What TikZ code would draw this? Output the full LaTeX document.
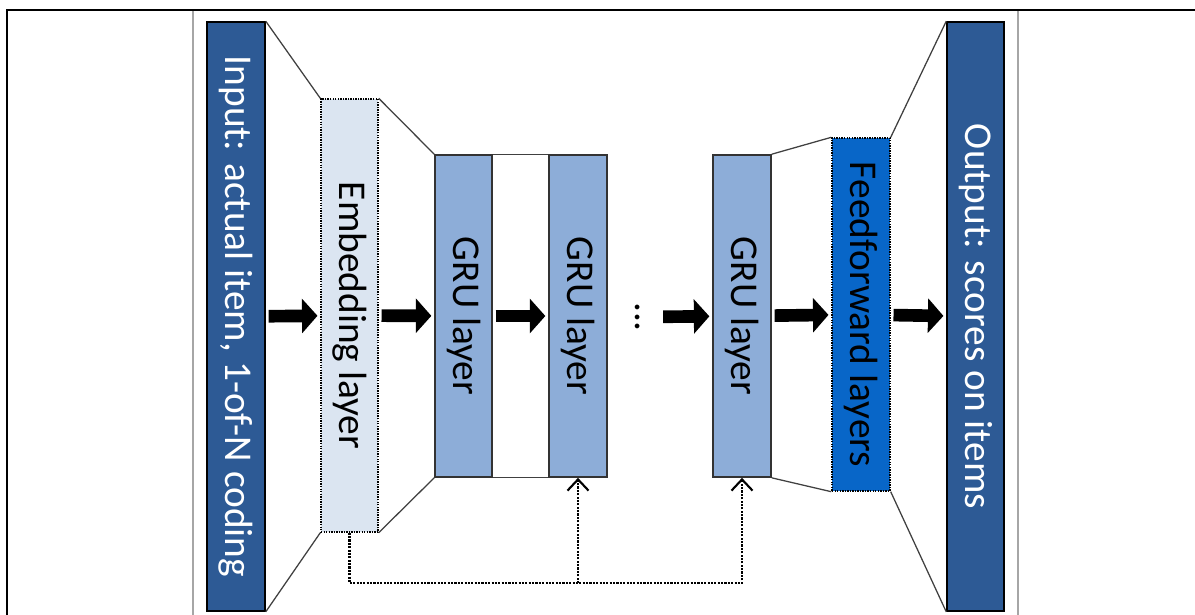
\documentclass[tikz,border=0pt]{standalone}
\usepackage{fontspec}
\setmainfont{Carlito}
\usepackage{graphicx}
\usetikzlibrary{arrows.meta}

\definecolor{ioblue}{HTML}{2D5A95}
\definecolor{grublue}{HTML}{8DADD8}
\definecolor{embblue}{HTML}{DBE5F1}
\definecolor{ffblue}{HTML}{0866C8}
\newcommand{\unitpx}{0.025cm}
\newcommand{\vtext}[1]{\rotatebox{-90}{#1}}

\begin{document}
\begin{tikzpicture}[x=0.025cm, y=-0.025cm,
    every node/.style={inner sep=0pt, font=\fontsize{28}{30}\selectfont},
    layer/.style 2 args={minimum width=#1*\unitpx, minimum height=#2*\unitpx},
    iobox/.style={draw=black, line width=1.1pt, fill=ioblue, text=white},
    grubox/.style={draw=black!80, line width=1.2pt, fill=grublue},
    dotbox/.style={draw=black, line width=1pt, dash pattern=on 1pt off 0.8pt},
    side/.style={draw=black!75, line width=0.9pt},
    flow/.style={line width=9pt, -{Triangle[width=24pt,length=11pt]}, shorten <=2pt, shorten >=2pt},
    fb/.style={line width=1.7pt, dash pattern=on 1.5pt off 0.9pt, -{Straight Barb[length=8pt,width=15pt,line width=1.5pt]}}]
    \useasboundingbox (0,0) rectangle (1195,614);
    \clip (0,0) rectangle (1195,614);
    \draw[line width=1.4pt] (7,10) rectangle (1210,630);
    \draw[gray!70, line width=1.3pt] (193,11) -- (193,620);
    \draw[gray!70, line width=1.3pt] (1018,11) -- (1018,620);

    \node[iobox, layer={58}{589}] (inp) at (236,316.5) {\vtext{Input: actual item, 1-of-N coding}};
    \node[dotbox, fill=embblue, layer={57}{433}] (emb) at (349.5,315.5) {\vtext{Embedding layer}};
    \node[grubox, layer={57}{322}] (gru1) at (463.5,316) {\vtext{GRU layer}};
    \node[grubox, layer={58}{322}] (gru2) at (578,316) {\vtext{GRU layer}};
    \node (dots) at (638,317) {\vtext{...}};
    \node[grubox, layer={58}{322}] (gru3) at (742,316) {\vtext{GRU layer}};
    \node[dotbox, fill=ffblue, layer={58}{353}] (ff) at (861,314.5) {\vtext{Feedforward layers}};
    \node[iobox, layer={57}{589}] (out) at (975.5,316.5) {\vtext{Output: scores on items}};

    \draw[side] (inp.north east) -- (emb.north west) (inp.south east) -- (emb.south west);
    \draw[side] (emb.north east) -- (gru1.north west) (emb.south east) -- (gru1.south west);
    \draw[side] (gru1.north east) -- (gru2.north west) (gru1.south east) -- (gru2.south west);
    \draw[side] (gru3.north east) -- (ff.north west) (gru3.south east) -- (ff.south west);
    \draw[side] (ff.north east) -- (out.north west) (ff.south east) -- (out.south west);

    \draw[flow] (inp) -- (emb);
    \draw[flow] (emb) -- (gru1);
    \draw[flow] (gru1) -- (gru2);
    \draw[flow, shorten <=16pt] (dots) -- (gru3);
    \draw[flow] (gru3) -- (ff);
    \draw[flow] (ff) -- (out);

    \coordinate (loop) at (350,583);
    \draw[fb] (emb.south) |- (loop -| gru3.south) -- (gru3.south);
    \draw[fb] (loop -| gru2.south) -- (gru2.south);
\end{tikzpicture}
\end{document}
